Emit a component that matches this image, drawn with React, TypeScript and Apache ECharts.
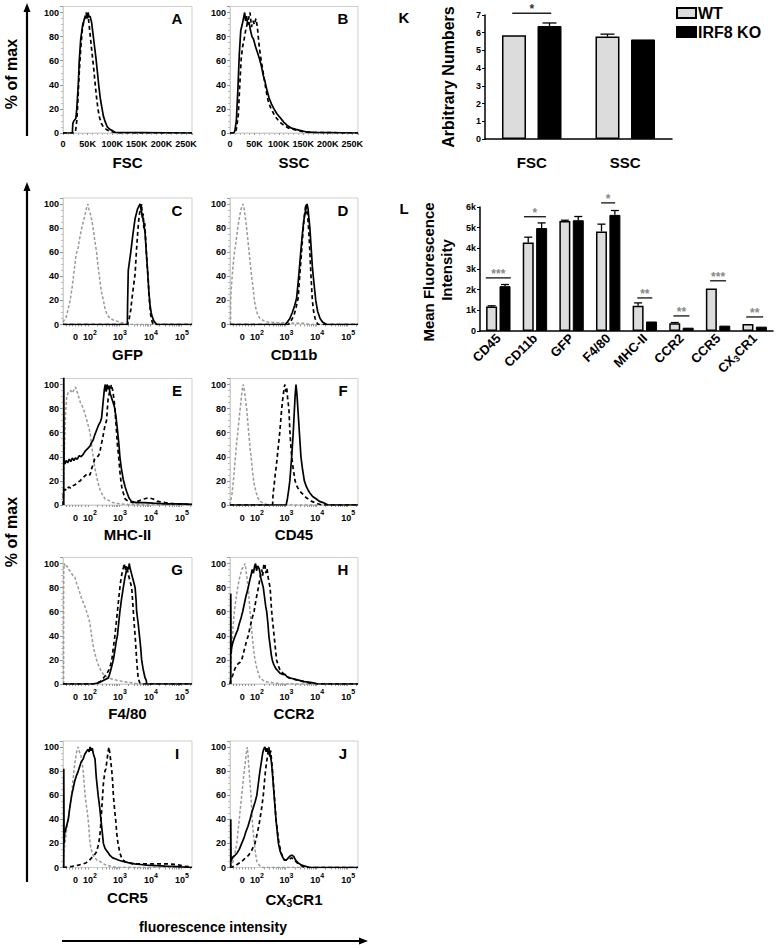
import React, { useEffect, useRef } from "react";
import * as echarts from "echarts";

const FONT = '"Liberation Sans", Arial, Helvetica, sans-serif';

// ---------- Histogram data: [x, % of max] ----------
// FSC / SSC: x in thousands (0..262K). Fluorescence: x in display decades (10^2=2, 10^3=3, ...)
const fscSolid = [[0,0],[19,0],[20,8],[22,10],[26,12],[28,20],[31,40],[33,60],[36,78],[40,90],[44,95],[47,97],[49,95],[51,100],[53,96],[55,97],[58,92],[61,82],[64,72],[67,62],[70,50],[73,38],[76,28],[79,21],[82,14],[86,9],[90,5],[95,3],[100,2],[106,0.5],[262,0]];
const fscDashed = [[0,0],[24,0],[26,3],[28,10],[30,25],[33,50],[36,70],[39,85],[42,92],[45,97],[47,100],[49,95],[51,98],[53,90],[56,78],[59,66],[62,55],[65,42],[68,30],[71,20],[74,13],[78,8],[82,5],[88,3],[95,1.5],[105,0.5],[112,0],[262,0]];
const sscSolid = [[0,0],[8,0],[10,2],[13,10],[16,35],[19,65],[22,85],[25,90],[28,96],[30,100],[32,93],[34,97],[36,90],[39,92],[42,85],[45,80],[48,78],[52,72],[56,67],[60,62],[64,56],[68,48],[72,42],[76,35],[80,29],[85,24],[90,20],[96,16],[102,13],[110,9],[118,6],[126,4],[135,3],[145,2],[155,1],[170,0.5],[262,0]];
const sscDashed = [[0,0],[10,0],[13,3],[17,15],[20,40],[23,62],[26,72],[29,78],[32,85],[35,90],[38,95],[41,100],[44,88],[47,93],[50,90],[53,95],[56,88],[59,75],[62,65],[66,55],[70,45],[74,35],[78,27],[82,22],[87,18],[92,14],[98,11],[105,8],[112,6],[120,4],[130,3],[140,2],[150,1],[165,0.5],[262,0]];

const gfpIso = [[1.2,2],[1.25,4],[1.3,6],[1.36,12],[1.43,20],[1.5,32],[1.56,45],[1.62,58],[1.69,64],[1.74,72],[1.8,80],[1.86,86],[1.9,90],[1.95,96],[2.0,100],[2.04,95],[2.08,92],[2.13,86],[2.17,80],[2.22,70],[2.28,60],[2.33,48],[2.37,40],[2.43,28],[2.5,20],[2.56,12],[2.63,8],[2.71,5],[2.8,4],[2.9,3],[3.03,2],[3.15,1],[3.3,0],[5.35,0]];
const gfpSolid = [[1.2,0],[3.27,0],[3.28,20],[3.3,45],[3.38,60],[3.45,75],[3.52,88],[3.56,92],[3.6,96],[3.64,98],[3.68,100],[3.72,94],[3.76,90],[3.8,84],[3.84,76],[3.88,60],[3.92,45],[3.96,28],[4.0,16],[4.05,8],[4.12,3],[4.21,0],[5.35,0]];
const gfpDashed = [[1.2,0],[3.28,0],[3.33,5],[3.38,12],[3.42,22],[3.47,32],[3.52,42],[3.56,60],[3.6,75],[3.63,85],[3.66,92],[3.7,96],[3.73,100],[3.75,88],[3.78,92],[3.8,80],[3.83,84],[3.86,70],[3.9,52],[3.94,38],[3.98,20],[4.02,8],[4.07,2],[4.12,0],[5.35,0]];

const cd11bIso = [[1.22,0],[1.22,18],[1.23,25],[1.27,40],[1.32,55],[1.36,62],[1.41,72],[1.45,80],[1.5,88],[1.55,95],[1.59,98],[1.62,100],[1.66,96],[1.7,88],[1.74,80],[1.78,70],[1.82,60],[1.86,50],[1.9,40],[1.95,30],[1.99,20],[2.05,12],[2.1,8],[2.17,5],[2.3,3],[2.43,2],[2.7,1.5],[3.0,1.5],[3.3,1],[3.6,1],[3.8,0],[5.35,0]];
const cd11bSolid = [[1.2,0],[2.98,0],[3.06,2],[3.14,5],[3.22,10],[3.3,16],[3.36,22],[3.42,38],[3.46,50],[3.5,62],[3.55,76],[3.59,86],[3.63,92],[3.67,97],[3.7,100],[3.73,96],[3.76,88],[3.79,80],[3.83,64],[3.87,48],[3.9,40],[3.94,30],[3.98,20],[4.04,11],[4.12,5],[4.2,2],[4.33,0],[5.35,0]];
const cd11bDashed = [[1.2,0],[3.1,0],[3.2,4],[3.28,8],[3.35,15],[3.41,22],[3.46,40],[3.52,60],[3.57,78],[3.61,90],[3.64,96],[3.66,100],[3.68,92],[3.7,95],[3.73,86],[3.76,75],[3.79,60],[3.83,38],[3.87,20],[3.91,11],[3.96,5],[4.0,2],[4.06,0],[5.35,0]];

const mhcIso = [[1.2,0],[1.24,40],[1.28,75],[1.32,90],[1.38,94],[1.45,95],[1.5,93],[1.56,96],[1.6,98],[1.64,95],[1.7,90],[1.76,85],[1.82,82],[1.88,78],[1.95,72],[2.02,65],[2.07,60],[2.12,50],[2.17,40],[2.23,30],[2.28,24],[2.33,18],[2.4,12],[2.48,8],[2.55,5],[2.65,4],[2.8,2],[3.0,1],[3.3,0.5],[5.35,0]];
const mhcSolid = [[1.225,0],[1.225,110],[1.235,36],[1.26,34],[1.3,37],[1.35,35],[1.4,38],[1.45,36],[1.5,39],[1.55,37],[1.6,39],[1.66,38],[1.72,41],[1.78,40],[1.85,42],[1.92,45],[2.0,47],[2.07,49],[2.12,52],[2.17,54],[2.22,58],[2.28,62],[2.34,66],[2.4,69],[2.44,72],[2.47,80],[2.5,88],[2.53,96],[2.56,100],[2.59,94],[2.62,100],[2.65,96],[2.68,99],[2.71,93],[2.75,90],[2.8,86],[2.85,82],[2.9,74],[2.95,63],[3.0,50],[3.03,40],[3.08,30],[3.14,21],[3.2,15],[3.25,11],[3.32,6],[3.4,3],[3.55,2],[3.8,2],[4.1,1.5],[4.5,1],[5.0,1],[5.35,0.5]];
const mhcDashed = [[1.2,0],[1.22,12],[1.26,13],[1.32,12],[1.38,15],[1.45,14],[1.52,16],[1.6,17],[1.68,19],[1.75,20],[1.82,22],[1.9,24],[1.98,26],[2.07,25],[2.12,30],[2.17,34],[2.22,38],[2.28,39],[2.34,41],[2.38,43],[2.43,50],[2.48,56],[2.52,62],[2.56,67],[2.6,70],[2.65,88],[2.7,94],[2.76,100],[2.8,95],[2.84,88],[2.87,80],[2.91,65],[2.95,50],[2.99,40],[3.04,25],[3.09,15],[3.14,10],[3.2,5],[3.3,3],[3.45,2],[3.6,3],[3.8,5],[3.95,6],[4.1,5],[4.25,3],[4.5,2],[4.8,1],[5.35,0.5]];

const cd45Iso = [[1.2,0],[1.22,3],[1.26,8],[1.31,20],[1.36,35],[1.41,50],[1.45,60],[1.49,70],[1.53,80],[1.57,90],[1.6,96],[1.63,100],[1.66,96],[1.7,88],[1.74,80],[1.78,68],[1.82,56],[1.86,45],[1.9,36],[1.94,26],[1.98,18],[2.04,11],[2.1,6],[2.18,3],[2.28,1.5],[2.39,0.5],[2.6,0],[5.35,0]];
const cd45Solid = [[1.2,0],[3.02,0],[3.06,5],[3.1,12],[3.14,20],[3.17,30],[3.2,40],[3.23,52],[3.25,60],[3.28,75],[3.31,90],[3.34,100],[3.37,92],[3.4,80],[3.43,68],[3.45,60],[3.48,48],[3.5,40],[3.55,30],[3.61,20],[3.68,15],[3.74,12],[3.79,10],[3.88,7],[4.0,5],[4.1,3],[4.22,2],[4.3,1],[4.38,0],[5.35,0]];
const cd45Dashed = [[1.2,0],[2.58,0],[2.6,10],[2.63,16],[2.66,24],[2.7,32],[2.74,42],[2.78,52],[2.82,62],[2.86,75],[2.9,86],[2.93,92],[2.96,98],[2.98,100],[3.01,94],[3.04,97],[3.07,88],[3.11,80],[3.14,62],[3.17,50],[3.2,40],[3.25,30],[3.31,20],[3.38,15],[3.45,12],[3.52,10],[3.6,8],[3.67,6],[3.74,5],[3.85,3],[3.95,2],[4.05,1],[4.17,0],[5.35,0]];

const f480Iso = [[1.22,0],[1.22,70],[1.225,95],[1.24,100],[1.28,97],[1.33,98],[1.38,95],[1.42,94],[1.47,92],[1.52,90],[1.58,89],[1.63,84],[1.69,80],[1.75,75],[1.81,70],[1.88,66],[1.96,60],[2.02,55],[2.07,50],[2.12,40],[2.17,32],[2.22,26],[2.28,20],[2.35,15],[2.44,10],[2.55,7],[2.66,5],[2.8,4],[2.95,3],[3.13,2],[3.4,1],[3.68,0],[5.35,0]];
const f480Solid = [[1.2,0],[2.17,0],[2.35,1],[2.5,3],[2.66,5],[2.72,10],[2.77,15],[2.82,20],[2.87,28],[2.91,35],[2.95,40],[2.99,50],[3.03,60],[3.08,70],[3.14,80],[3.19,88],[3.24,94],[3.28,97],[3.31,95],[3.33,100],[3.36,96],[3.4,92],[3.44,88],[3.48,84],[3.52,80],[3.55,70],[3.57,60],[3.62,50],[3.66,40],[3.7,30],[3.73,20],[3.78,12],[3.84,5],[3.88,3],[3.89,0],[5.35,0]];
const f480Dashed = [[1.2,0],[2.17,0],[2.3,1],[2.4,2],[2.5,5],[2.6,8],[2.68,12],[2.73,16],[2.77,20],[2.82,30],[2.87,40],[2.91,50],[2.95,60],[2.99,70],[3.03,80],[3.07,88],[3.1,92],[3.14,96],[3.17,100],[3.2,94],[3.24,98],[3.27,95],[3.31,90],[3.36,85],[3.41,80],[3.45,65],[3.49,50],[3.52,40],[3.57,20],[3.6,10],[3.62,5],[3.68,0],[5.35,0]];

const ccr2Iso = [[1.22,0],[1.22,10],[1.23,20],[1.27,35],[1.3,48],[1.34,60],[1.39,70],[1.45,80],[1.51,88],[1.58,95],[1.63,97],[1.69,100],[1.74,90],[1.79,80],[1.85,60],[1.92,40],[1.97,28],[2.01,20],[2.08,12],[2.17,5],[2.33,2],[2.6,1],[2.88,0],[5.35,0]];
const ccr2Solid = [[1.225,0],[1.225,75],[1.235,25],[1.25,30],[1.3,35],[1.34,38],[1.4,42],[1.45,45],[1.5,50],[1.56,55],[1.61,60],[1.66,66],[1.71,72],[1.75,76],[1.79,80],[1.84,86],[1.88,90],[1.92,95],[1.96,92],[2.0,98],[2.03,100],[2.06,94],[2.1,98],[2.14,96],[2.17,93],[2.2,88],[2.24,84],[2.28,80],[2.32,72],[2.36,64],[2.39,60],[2.43,50],[2.46,40],[2.5,32],[2.54,24],[2.57,20],[2.62,16],[2.68,13],[2.75,11],[2.82,9],[2.9,8],[2.98,8],[3.05,6],[3.15,5],[3.3,4],[3.45,3],[3.6,2],[3.75,1.5],[3.9,1],[4.06,0],[5.35,0]];
const ccr2Dashed = [[1.2,0],[1.22,3],[1.25,5],[1.3,8],[1.35,12],[1.4,15],[1.47,17],[1.53,18],[1.58,20],[1.63,25],[1.68,30],[1.73,35],[1.79,40],[1.85,47],[1.91,54],[1.98,60],[2.03,68],[2.08,75],[2.12,80],[2.16,86],[2.2,92],[2.23,95],[2.26,90],[2.29,98],[2.33,100],[2.36,92],[2.4,96],[2.44,88],[2.5,80],[2.55,60],[2.59,50],[2.63,40],[2.67,30],[2.71,20],[2.77,15],[2.83,11],[2.88,10],[2.95,8],[3.0,7],[3.05,6],[3.12,5],[3.25,4],[3.41,3],[3.6,2],[3.75,1],[4.06,0],[5.35,0]];

const ccr5Iso = [[1.2,0],[1.24,15],[1.3,28],[1.37,40],[1.43,52],[1.48,60],[1.52,72],[1.55,80],[1.59,88],[1.63,95],[1.66,98],[1.69,100],[1.73,96],[1.77,94],[1.8,90],[1.84,82],[1.88,70],[1.91,60],[1.96,50],[2.01,40],[2.04,30],[2.07,20],[2.12,14],[2.17,10],[2.22,8],[2.3,6],[2.39,5],[2.5,3],[2.6,2],[2.75,1],[2.93,0],[5.35,0]];
const ccr5Solid = [[1.225,0],[1.225,82],[1.235,20],[1.25,28],[1.3,33],[1.37,40],[1.42,50],[1.48,60],[1.53,66],[1.58,72],[1.63,76],[1.69,80],[1.74,84],[1.79,88],[1.85,90],[1.9,94],[1.95,96],[2.0,98],[2.04,96],[2.07,100],[2.1,97],[2.14,99],[2.18,94],[2.23,90],[2.27,75],[2.33,60],[2.38,50],[2.42,40],[2.46,30],[2.5,20],[2.55,16],[2.6,14],[2.66,12],[2.71,10],[2.8,8],[2.9,7],[3.0,6],[3.13,5],[3.3,4],[3.5,3],[3.7,2.5],[3.89,2],[4.2,1.5],[4.5,1.2],[4.74,1],[5.0,0.5],[5.35,0]];
const ccr5Dashed = [[1.2,0],[1.5,1],[1.7,2],[1.85,3],[1.95,4],[2.05,6],[2.12,8],[2.2,10],[2.28,13],[2.35,20],[2.4,30],[2.43,42],[2.47,58],[2.5,70],[2.55,80],[2.58,82],[2.62,90],[2.65,96],[2.68,100],[2.72,92],[2.77,80],[2.8,70],[2.82,60],[2.86,48],[2.9,38],[2.93,28],[2.97,20],[3.03,12],[3.1,7],[3.19,5],[3.3,4],[3.45,3],[3.7,3],[4.0,3],[4.3,3],[4.6,3],[4.87,2.5],[5.1,1],[5.35,0.5]];

const cx3Iso = [[1.2,0],[1.3,5],[1.36,12],[1.42,20],[1.46,30],[1.5,40],[1.54,50],[1.58,60],[1.62,70],[1.66,80],[1.7,88],[1.73,95],[1.76,100],[1.79,92],[1.82,80],[1.85,70],[1.88,60],[1.9,50],[1.92,40],[1.95,30],[1.99,20],[2.03,11],[2.07,5],[2.15,2],[2.23,0],[5.35,0]];
const cx3Solid = [[1.225,0],[1.225,40],[1.235,5],[1.26,7],[1.3,9],[1.36,10],[1.43,12],[1.5,15],[1.58,20],[1.66,25],[1.72,30],[1.78,34],[1.85,40],[1.9,45],[1.96,50],[2.02,55],[2.07,60],[2.12,70],[2.17,80],[2.22,88],[2.26,95],[2.29,98],[2.33,100],[2.37,96],[2.4,99],[2.44,95],[2.47,98],[2.5,94],[2.54,88],[2.57,80],[2.6,70],[2.63,60],[2.66,50],[2.69,40],[2.73,30],[2.77,20],[2.82,14],[2.88,10],[2.94,7],[3.0,6],[3.06,7],[3.12,9],[3.18,10],[3.22,10],[3.27,9],[3.33,6],[3.4,4],[3.52,2],[3.65,1],[3.77,0],[5.35,0]];
const cx3Dashed = [[1.2,0],[1.25,0],[1.4,2],[1.58,5],[1.7,8],[1.8,10],[1.9,14],[2.01,20],[2.08,28],[2.13,34],[2.17,40],[2.23,50],[2.28,60],[2.32,72],[2.35,80],[2.39,88],[2.43,95],[2.46,100],[2.49,92],[2.52,97],[2.55,88],[2.58,80],[2.62,65],[2.66,52],[2.69,40],[2.74,30],[2.79,20],[2.86,12],[2.96,6],[3.05,6],[3.13,7],[3.2,8],[3.26,7],[3.33,5],[3.41,3],[3.55,1],[3.68,0],[5.35,0]];

// ---------- Tick labels ----------
const fluorTickValues = [1.6, 2.07, 3.03, 4.03, 5.03];
const fluorTickBase = ["0", "10", "10", "10", "10"];
const fluorTickExp = ["", "2", "3", "4", "5"];

// ---------- Panel K ----------
const kCategories = ["FSC", "SSC"];
const kWT = [5.85, 5.78];
const kWTerr = [5.87, 5.92];
const kKO = [6.38, 5.62];
const kKOerr = [6.55, 5.66];
const kSig = [[0, 7.1]];
const kSigLabels = ["*"];

// ---------- Panel L ----------
const lCategories = ["CD45", "CD11b", "GFP", "F4/80", "MHC-II", "CCR2", "CCR5", "CX3CR1"];
const lWT = [1180, 4280, 5320, 4820, 1220, 370, 2060, 340];
const lWTerr = [1220, 4540, 5360, 5170, 1360, 410, 2090, 360];
const lKO = [2170, 4980, 5360, 5620, 460, 160, 260, 210];
const lKOerr = [2250, 5230, 5540, 5830, 470, 170, 280, 220];
const lSig = [[0, 2570], [1, 5530], [3, 6200], [4, 1600], [5, 730], [6, 2430], [7, 680]];
const lSigLabels = ["***", "*", "*", "**", "**", "***", "**"];
const lSigWidths = [25, 22, 14, 15, 16, 16, 17];

// ---------- Layout ----------
const COL_LEFT = [63, 230];
const COL_W = [129, 128];
const ROW_Y100 = [12.5, 204, 384.5, 563.5, 747];
const PX_PER_PCT = 1.205;
const Y_MAX = 105;

type Curve = { d: number[][]; s: "solid" | "dashed" | "iso" };
const panels: { letter: string; title: string; col: number; row: number; scatter: boolean; curves: Curve[] }[] = [
  { letter: "A", title: "FSC", col: 0, row: 0, scatter: true, curves: [{ d: fscDashed, s: "dashed" }, { d: fscSolid, s: "solid" }] },
  { letter: "B", title: "SSC", col: 1, row: 0, scatter: true, curves: [{ d: sscDashed, s: "dashed" }, { d: sscSolid, s: "solid" }] },
  { letter: "C", title: "GFP", col: 0, row: 1, scatter: false, curves: [{ d: gfpIso, s: "iso" }, { d: gfpDashed, s: "dashed" }, { d: gfpSolid, s: "solid" }] },
  { letter: "D", title: "CD11b", col: 1, row: 1, scatter: false, curves: [{ d: cd11bIso, s: "iso" }, { d: cd11bDashed, s: "dashed" }, { d: cd11bSolid, s: "solid" }] },
  { letter: "E", title: "MHC-II", col: 0, row: 2, scatter: false, curves: [{ d: mhcIso, s: "iso" }, { d: mhcDashed, s: "dashed" }, { d: mhcSolid, s: "solid" }] },
  { letter: "F", title: "CD45", col: 1, row: 2, scatter: false, curves: [{ d: cd45Iso, s: "iso" }, { d: cd45Dashed, s: "dashed" }, { d: cd45Solid, s: "solid" }] },
  { letter: "G", title: "F4/80", col: 0, row: 3, scatter: false, curves: [{ d: f480Iso, s: "iso" }, { d: f480Dashed, s: "dashed" }, { d: f480Solid, s: "solid" }] },
  { letter: "H", title: "CCR2", col: 1, row: 3, scatter: false, curves: [{ d: ccr2Iso, s: "iso" }, { d: ccr2Dashed, s: "dashed" }, { d: ccr2Solid, s: "solid" }] },
  { letter: "I", title: "CCR5", col: 0, row: 4, scatter: false, curves: [{ d: ccr5Iso, s: "iso" }, { d: ccr5Dashed, s: "dashed" }, { d: ccr5Solid, s: "solid" }] },
  { letter: "J", title: "CX3CR1", col: 1, row: 4, scatter: false, curves: [{ d: cx3Iso, s: "iso" }, { d: cx3Dashed, s: "dashed" }, { d: cx3Solid, s: "solid" }] },
];

// "CX3CR1" -> rich text with subscript 3
const richSub = (s: string) => (s === "CX3CR1" ? "{t|CX}{ts|3}{t|CR1}" : `{t|${s}}`);

const fluorMinorTicks: number[] = (() => {
  const t: number[] = [1.3, 1.4, 1.5, 1.6, 1.7, 1.8, 1.9];
  for (let d = 2; d <= 4; d++) for (let m = 1; m <= 9; m++) t.push(d + Math.log10(m));
  t.push(5, 5 + Math.log10(2));
  return t;
})();

const curveStyle = (s: string) => {
  if (s === "solid") return { color: "#000", width: 1.7, type: "solid" as any };
  if (s === "dashed") return { color: "#000", width: 1.7, type: [4, 3] as any };
  return { color: "#9a9a9a", width: 1.5, type: [3, 2] as any };
};

function buildOption() {
  const grids: any[] = [];
  const xAxes: any[] = [];
  const yAxes: any[] = [];
  const series: any[] = [];
  const graphics: any[] = [];
  const txt = (size: number) => ({ fontFamily: FONT, fontWeight: "bold", fontSize: size, color: "#000" });
  const subRich = (size: number) => ({
    t: { ...txt(size) },
    ts: { ...txt(Math.round(size * 0.72)), verticalAlign: "bottom", padding: [Math.round(size * 0.5), 0, 0, 0] },
  });

  panels.forEach((p, i) => {
    const left = COL_LEFT[p.col];
    const width = COL_W[p.col];
    const y100 = ROW_Y100[p.row];
    grids.push({
      left, width,
      top: y100 - (Y_MAX - 100) * PX_PER_PCT,
      height: Y_MAX * PX_PER_PCT,
      show: true, borderColor: "#cfcfcf", borderWidth: 1, backgroundColor: "transparent",
    });
    const xa: any = {
      gridIndex: i, type: "value",
      name: richSub(p.title), nameLocation: "middle", nameGap: 22,
      nameTextStyle: { ...txt(15), rich: subRich(15) },
      axisLine: { show: true, lineStyle: { color: "#cfcfcf" } },
      splitLine: { show: false },
      axisTick: { show: true, length: 2, lineStyle: { color: "#999" } },
    };
    if (p.scatter) {
      Object.assign(xa, { min: 0, max: 262, interval: 50 });
      xa.axisLabel = { ...txt(9), margin: 6, showMaxLabel: false, formatter: (v: number) => (v === 0 ? "0" : v + "K") };
      xa.minorTick = { show: true, splitNumber: 5, length: 2, lineStyle: { color: "#bbb" } };
    } else {
      Object.assign(xa, { min: 1.2, max: 5.35 });
      xa.axisLabel = {
        ...txt(9), margin: 4,
        customValues: fluorTickValues,
        formatter: (v: number) => {
          let best = 0;
          fluorTickValues.forEach((t, k) => { if (Math.abs(t - v) < Math.abs(fluorTickValues[best] - v)) best = k; });
          const e = fluorTickExp[best];
          return e ? `{b|${fluorTickBase[best]}}{s|${e}}` : `{b|${fluorTickBase[best]}}`;
        },
        rich: {
          b: { ...txt(9), lineHeight: 13, verticalAlign: "bottom" },
          s: { ...txt(7), lineHeight: 9, verticalAlign: "top" },
        },
      };
      xa.axisTick.customValues = fluorMinorTicks;
    }
    xAxes.push(xa);
    yAxes.push({
      gridIndex: i, type: "value", min: 0, max: Y_MAX, interval: 20,
      axisLine: { show: true, lineStyle: { color: "#cfcfcf" } },
      splitLine: { show: false },
      axisLabel: { ...txt(9), margin: 4, showMaxLabel: false },
      axisTick: { show: true, length: 3, lineStyle: { color: "#999" } },
      minorTick: { show: true, splitNumber: 4, length: 2, lineStyle: { color: "#bbb" } },
    });
    p.curves.forEach((c, k) => {
      series.push({
        type: "line", xAxisIndex: i, yAxisIndex: i, data: c.d,
        showSymbol: false, symbol: "none", clip: true,
        lineStyle: curveStyle(c.s), z: 2 + k, silent: true,
      });
    });
    graphics.push({
      type: "text", x: left + width - 15, y: y100 + 6,
      style: { text: p.letter, font: `bold 15px ${FONT}`, fill: "#000", align: "center", verticalAlign: "middle" },
    });
  });

  // ---------- K ----------
  const kIdx = grids.length;
  grids.push({ left: 485, width: 187, top: 15, height: 124 });
  xAxes.push({
    gridIndex: kIdx, type: "category", data: kCategories,
    axisLine: { lineStyle: { color: "#000", width: 1.5 } }, axisTick: { show: false },
    axisLabel: { ...txt(15), margin: 16 },
  });
  yAxes.push({
    gridIndex: kIdx, type: "value", min: 0, max: 7, interval: 1,
    axisLine: { show: true, lineStyle: { color: "#000", width: 1.5 } },
    axisTick: { show: true, length: 3, lineStyle: { color: "#000" } },
    axisLabel: { ...txt(9), margin: 4 }, splitLine: { show: false },
  });
  // ---------- L ----------
  const lIdx = grids.length;
  grids.push({ left: 480, width: 293, top: 207, height: 124 });
  xAxes.push({
    gridIndex: lIdx, type: "category", data: lCategories,
    axisLine: { lineStyle: { color: "#000", width: 1.5 } }, axisTick: { show: false },
    axisLabel: { ...txt(13), margin: 5, rotate: 45, interval: 0, formatter: (v: string) => richSub(v), rich: subRich(13) },
  });
  yAxes.push({
    gridIndex: lIdx, type: "value", min: 0, max: 6000, interval: 1000,
    axisLine: { show: true, lineStyle: { color: "#000", width: 1.5 } },
    axisTick: { show: true, length: 3, lineStyle: { color: "#000" } },
    axisLabel: { ...txt(9), margin: 4, formatter: (v: number) => (v === 0 ? "0" : v / 1000 + "k") },
    splitLine: { show: false },
  });

  const barSeries = (idx: number, name: string, data: number[], w: number, gap: string, wt: boolean) => ({
    type: "bar", name, xAxisIndex: idx, yAxisIndex: idx, data, barWidth: w, barGap: gap,
    itemStyle: wt ? { color: "#dcdcdc", borderColor: "#000", borderWidth: 1.5 } : { color: "#000", borderColor: "#000", borderWidth: 1 },
    silent: true,
  });
  series.push(barSeries(kIdx, "WT", kWT, 24, "48%", true));
  series.push(barSeries(kIdx, "IRF8 KO", kKO, 24, "48%", false));
  series.push(barSeries(lIdx, "WT", lWT, 11, "22%", true));
  series.push(barSeries(lIdx, "IRF8 KO", lKO, 11, "22%", false));

  const errSeries = (idx: number, wt: number[], wtE: number[], ko: number[], koE: number[], off: number, cap: number) => ({
    type: "custom", xAxisIndex: idx, yAxisIndex: idx, silent: true, z: 5,
    data: [
      ...wt.map((v, i) => [i, v, wtE[i], 0]),
      ...ko.map((v, i) => [i, v, koE[i], 1]),
    ],
    renderItem: (params: any, api: any) => {
      const cat = api.value(0), v = api.value(1), e = api.value(2), side = api.value(3);
      const p0 = api.coord([cat, v]);
      const p1 = api.coord([cat, e]);
      const x = p0[0] + (side ? off : -off);
      if (Math.abs(p0[1] - p1[1]) < 0.8) return { type: "group", children: [] };
      return {
        type: "group",
        children: [
          { type: "line", shape: { x1: x, y1: p0[1], x2: x, y2: p1[1] }, style: { stroke: "#000", lineWidth: 1.3 } },
          { type: "line", shape: { x1: x - cap, y1: p1[1], x2: x + cap, y2: p1[1] }, style: { stroke: "#000", lineWidth: 1.3 } },
        ],
      };
    },
  });
  series.push(errSeries(kIdx, kWT, kWTerr, kKO, kKOerr, 17.75, 7));
  series.push(errSeries(lIdx, lWT, lWTerr, lKO, lKOerr, 6.7, 4));

  const sigSeries = (idx: number, data: number[][], labels: string[], widths: number[], starColor: string, starSize: number) => ({
    type: "custom", xAxisIndex: idx, yAxisIndex: idx, silent: true, z: 6, data,
    renderItem: (params: any, api: any) => {
      const p = api.coord([api.value(0), api.value(1)]);
      const hw = widths[params.dataIndex] / 2;
      return {
        type: "group",
        children: [
          { type: "line", shape: { x1: p[0] - hw, y1: p[1], x2: p[0] + hw, y2: p[1] }, style: { stroke: "#222", lineWidth: 1.4 } },
          { type: "text", x: p[0], y: p[1] + 2, style: { text: labels[params.dataIndex], fill: starColor, font: `bold ${starSize}px ${FONT}`, align: "center", verticalAlign: "bottom" } },
        ],
      };
    },
  });
  series.push(sigSeries(kIdx, kSig, kSigLabels, [39], "#333", 12));
  series.push(sigSeries(lIdx, lSig, lSigLabels, lSigWidths, "#888", 12));

  // ---------- Free text & arrows ----------
  const T = (text: string, x: number, y: number, size: number, rot = 0) => ({
    type: "text", x, y, rotation: rot,
    style: { text, font: `bold ${size}px ${FONT}`, fill: "#000", align: "center", verticalAlign: "middle" },
  });
  graphics.push(T("% of max", 11, 74, 16, Math.PI / 2));
  graphics.push(T("% of max", 11, 532, 16, Math.PI / 2));
  graphics.push(T("fluorescence intensity", 213, 927, 14));
  graphics.push(T("K", 404, 17, 15));
  graphics.push(T("L", 404, 208, 15));
  graphics.push(T("Arbitrary Numbers", 448, 77, 16, Math.PI / 2));
  graphics.push(T("Mean Fluorescence", 428, 272, 15, Math.PI / 2));
  graphics.push(T("Intensity", 446, 270, 15, Math.PI / 2));
  const ln = (x1: number, y1: number, x2: number, y2: number) => ({
    type: "line", shape: { x1, y1, x2, y2 }, style: { stroke: "#000", lineWidth: 2.2 },
  });
  const tri = (pts: number[][]) => ({ type: "polygon", shape: { points: pts }, style: { fill: "#000" } });
  graphics.push(ln(27, 136, 27, 10), tri([[27, 3], [23.5, 12], [30.5, 12]]));
  graphics.push(ln(27, 882, 27, 190), tri([[27, 182], [23.5, 191], [30.5, 191]]));
  graphics.push(ln(62, 941, 360, 941), tri([[368, 941], [359, 937.5], [359, 944.5]]));

  return {
    animation: false,
    textStyle: { fontFamily: FONT },
    grid: grids,
    xAxis: xAxes,
    yAxis: yAxes,
    series,
    legend: {
      data: ["WT", "IRF8 KO"], orient: "vertical", left: 676, top: 5,
      itemWidth: 19, itemHeight: 10, itemGap: 3, padding: 0, icon: "rect",
      textStyle: { ...txt(16), padding: [0, 0, 0, -3] },
      selectedMode: false,
    },
    graphic: graphics,
  };
}

export default function App() {
  const ref = useRef<HTMLDivElement>(null);
  useEffect(() => {
    document.body.style.margin = "0";
    const chart = echarts.init(ref.current!, null, { renderer: "svg" });
    chart.setOption(buildOption() as any);
    return () => chart.dispose();
  }, []);
  return <div ref={ref} style={{ width: 776, height: 948, background: "#fff" }} />;
}
